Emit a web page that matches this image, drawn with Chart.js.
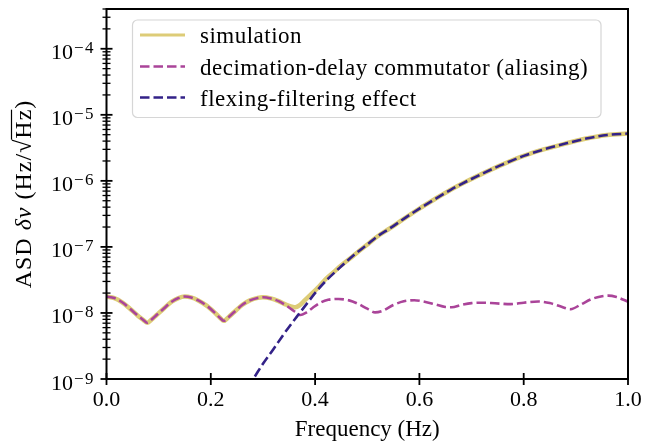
<!DOCTYPE html>
<html><head><meta charset="utf-8">
<script src="https://cdn.jsdelivr.net/npm/chart.js@4.4.1/dist/chart.umd.min.js"></script>
<style>html,body{margin:0;padding:0;background:#fff;} #wrap{width:657px;height:443px;}</style>
</head><body><div id="wrap"><canvas id="c" width="657" height="443"></canvas></div>
<script>
const seriesLabels = ['simulation', 'decimation-delay commutator (aliasing)', 'flexing-filtering effect'];

const simulationFreq = [0,0.015,0.03,0.045,0.06,0.07,0.078,0.086,0.096,0.11,0.125,0.138,0.15,0.162,0.176,0.192,0.207,0.218,0.225,0.233,0.245,0.26,0.275,0.29,0.3,0.315,0.33,0.345,0.355,0.362,0.37,0.38,0.392,0.405,0.42,0.435,0.45,0.47,0.499,0.52,0.544,0.57,0.6,0.63,0.66,0.69,0.723,0.76,0.8,0.84,0.88,0.92,0.96,1.0];
const simulationASD = [1.77e-8,1.68e-8,1.45e-8,1.16e-8,9.1e-9,7.9e-9,7.1e-9,7.9e-9,9.3e-9,1.17e-8,1.48e-8,1.68e-8,1.77e-8,1.72e-8,1.55e-8,1.29e-8,1.02e-8,8.4e-9,7.6e-9,8.5e-9,1.035e-8,1.32e-8,1.55e-8,1.69e-8,1.73e-8,1.66e-8,1.51e-8,1.33e-8,1.25e-8,1.22e-8,1.30e-8,1.55e-8,1.91e-8,2.40e-8,3.24e-8,4.12e-8,5.25e-8,7.0e-8,1.07e-7,1.45e-7,1.92e-7,2.66e-7,3.80e-7,5.31e-7,7.33e-7,9.77e-7,1.31e-6,1.78e-6,2.39e-6,3.02e-6,3.67e-6,4.37e-6,4.95e-6,5.21e-6];

const decimationFreq = [0,0.015,0.03,0.045,0.06,0.07,0.078,0.086,0.096,0.11,0.125,0.138,0.15,0.162,0.176,0.192,0.207,0.218,0.225,0.233,0.245,0.26,0.275,0.29,0.3,0.315,0.33,0.345,0.36,0.372,0.382,0.395,0.41,0.425,0.445,0.465,0.482,0.5,0.515,0.53,0.55,0.57,0.59,0.61,0.63,0.65,0.662,0.68,0.7,0.72,0.745,0.775,0.8,0.828,0.85,0.87,0.89,0.91,0.93,0.948,0.962,0.978,1.0];
const decimationASD = [1.77e-8,1.68e-8,1.45e-8,1.16e-8,9.1e-9,7.9e-9,7.1e-9,7.9e-9,9.3e-9,1.17e-8,1.48e-8,1.68e-8,1.77e-8,1.72e-8,1.55e-8,1.29e-8,1.02e-8,8.4e-9,7.6e-9,8.5e-9,1.035e-8,1.32e-8,1.55e-8,1.69e-8,1.73e-8,1.66e-8,1.51e-8,1.29e-8,1.06e-8,9.3e-9,1.0e-8,1.19e-8,1.43e-8,1.58e-8,1.63e-8,1.55e-8,1.38e-8,1.16e-8,1.02e-8,1.08e-8,1.32e-8,1.50e-8,1.56e-8,1.48e-8,1.35e-8,1.23e-8,1.22e-8,1.32e-8,1.41e-8,1.43e-8,1.40e-8,1.36e-8,1.43e-8,1.49e-8,1.41e-8,1.26e-8,1.14e-8,1.35e-8,1.62e-8,1.78e-8,1.83e-8,1.74e-8,1.48e-8];

const flexingFreq = [0.27,0.282,0.3,0.32,0.34,0.365,0.385,0.404,0.425,0.448,0.475,0.499,0.52,0.544,0.57,0.6,0.63,0.66,0.69,0.723,0.76,0.8,0.84,0.88,0.92,0.96,1.0];
const flexingASD = [7.4e-10,1.02e-9,1.70e-9,2.82e-9,4.79e-9,8.8e-9,1.41e-8,2.19e-8,3.31e-8,4.9e-8,7.59e-8,1.07e-7,1.45e-7,1.92e-7,2.66e-7,3.80e-7,5.31e-7,7.33e-7,9.77e-7,1.31e-6,1.78e-6,2.39e-6,3.02e-6,3.67e-6,4.37e-6,4.95e-6,5.21e-6];

const xTickValues = [0, 0.2, 0.4, 0.6, 0.8, 1.0];
const xTickLabels = ['0.0', '0.2', '0.4', '0.6', '0.8', '1.0'];
const yTickExponents = [-9, -8, -7, -6, -5, -4];
const xAxisTitle = 'Frequency (Hz)';

const FONT = '"Liberation Serif", "DejaVu Serif", serif';
const FS = 22;
const toXY = (fs, vs) => fs.map((f, i) => ({x: f, y: vs[i]}));

const datasets = [
  {label: seriesLabels[0], data: toXY(simulationFreq, simulationASD), borderColor: '#DDCC77', borderWidth: 4.5, borderDash: [], order: 3},
  {label: seriesLabels[1], data: toXY(decimationFreq, decimationASD), borderColor: '#AA4499', borderWidth: 2.6, borderDash: [9.5, 4], order: 2},
  {label: seriesLabels[2], data: toXY(flexingFreq, flexingASD), borderColor: '#332288', borderWidth: 2.6, borderDash: [9.5, 4], order: 1}
].map(d => Object.assign(d, {pointRadius: 0, fill: false, cubicInterpolationMode: 'monotone', borderCapStyle: 'butt'}));

function seg(ctx, x1, y1, x2, y2) { ctx.beginPath(); ctx.moveTo(x1, y1); ctx.lineTo(x2, y2); ctx.stroke(); }

const decor = {
  id: 'decor',
  afterDraw(chart) {
    const {ctx, chartArea: a, scales: {x, y}} = chart;
    ctx.save();
    ctx.strokeStyle = '#000';
    ctx.lineWidth = 2;
    ctx.strokeRect(a.left, a.top, a.right - a.left, a.bottom - a.top);
    ctx.lineWidth = 1.8;
    xTickValues.forEach(v => { const px = x.getPixelForValue(v); seg(ctx, px, a.bottom - 6, px, a.bottom + 6); });
    yTickExponents.forEach(e => { const py = y.getPixelForValue(Math.pow(10, e)); seg(ctx, a.left - 6, py, a.left + 6, py); });
    ctx.lineWidth = 1.3;
    yTickExponents.forEach(e => {
      for (let k = 2; k <= 9; k++) {
        const v = k * Math.pow(10, e);
        if (v > y.max) continue;
        const py = y.getPixelForValue(v);
        seg(ctx, a.left - 4, py, a.left + 4, py);
      }
    });
    // y tick labels with superscripts
    ctx.fillStyle = '#000';
    ctx.textBaseline = 'alphabetic';
    ctx.textAlign = 'left';
    const xEnd = a.left - 11.5;
    yTickExponents.forEach(e => {
      const T = y.getPixelForValue(Math.pow(10, e));
      const ex = '\u2212' + Math.abs(e);
      ctx.font = `17px ${FONT}`;
      ctx.letterSpacing = '1.5px';
      const w2 = ctx.measureText(ex).width;
      ctx.fillText(ex, xEnd - w2, T + 4.5);
      ctx.letterSpacing = '0px';
      ctx.font = `${FS}px ${FONT}`;
      const w1 = ctx.measureText('10').width;
      ctx.fillText('10', xEnd - w2 - w1 - 1, T + 10.5);
    });
    // y axis title
    ctx.save();
    ctx.translate(30.5, (a.top + a.bottom) / 2);
    ctx.rotate(-Math.PI / 2);
    ctx.letterSpacing = '1px';
    const up = `24px ${FONT}`, it = `italic 24px ${FONT}`;
    const parts = [['ASD ', up], ['\u03b4\u03bd', it], [' (Hz/', up], ['\u221a', up], ['Hz', up], [')', up]];
    let total = 0;
    const widths = parts.map(([t, f]) => { ctx.font = f; const w = ctx.measureText(t).width; total += w; return w; });
    let cx = -total / 2;
    parts.forEach(([t, f], i) => {
      ctx.font = f;
      ctx.fillText(t, cx, 0);
      if (t === 'Hz') { ctx.lineWidth = 1.2; seg(ctx, cx - 1, -19, cx + widths[i] - 1, -19); }
      cx += widths[i];
    });
    ctx.restore();
    // legend
    const L = {x: 132.5, y: 20, w: 468.5, h: 97.5, r: 5};
    ctx.beginPath();
    ctx.roundRect(L.x, L.y, L.w, L.h, L.r);
    ctx.fillStyle = 'rgba(255,255,255,0.8)';
    ctx.fill();
    ctx.strokeStyle = '#d6d6d6';
    ctx.lineWidth = 1.2;
    ctx.stroke();
    const rows = [35, 66.5, 97.5];
    chart.data.datasets.forEach((d, i) => {
      const ry = rows[i];
      ctx.strokeStyle = d.borderColor;
      ctx.lineWidth = i === 0 ? 3 : 2.6;
      ctx.setLineDash(d.borderDash || []);
      seg(ctx, 140, ry, 185, ry);
      ctx.setLineDash([]);
      ctx.fillStyle = '#000';
      ctx.font = `23px ${FONT}`;
      ctx.letterSpacing = '0.5px';
      ctx.fillText(d.label, 200, ry + 8);
      ctx.letterSpacing = '0px';
    });
    ctx.restore();
  }
};

new Chart(document.getElementById('c'), {
  type: 'line',
  data: {datasets},
  plugins: [decor],
  options: {
    responsive: false, animation: false, devicePixelRatio: 1,
    layout: {padding: {left: 0, right: 29, top: 9, bottom: 0}},
    plugins: {legend: {display: false}, tooltip: {enabled: false}},
    scales: {
      x: {
        type: 'linear', min: 0, max: 1,
        afterBuildTicks: s => { s.ticks = xTickValues.map(v => ({value: v})); },
        afterFit: s => { s.height = 64; },
        ticks: {callback: (v, i) => xTickLabels[i], font: {family: FONT, size: FS}, color: '#000', padding: 8, maxRotation: 0, autoSkip: false},
        grid: {display: false, drawTicks: false}, border: {display: false},
        title: {display: true, text: xAxisTitle, font: {family: FONT, size: 23}, color: '#000', padding: {top: 0, bottom: -1}}
      },
      y: {
        type: 'logarithmic', min: 1e-9, max: 4e-4,
        afterBuildTicks: s => { s.ticks = yTickExponents.map(e => ({value: Math.pow(10, e)})); },
        afterFit: s => { s.width = 106.5; },
        ticks: {display: false},
        grid: {display: false, drawTicks: false}, border: {display: false}
      }
    }
  }
});
</script></body></html>
